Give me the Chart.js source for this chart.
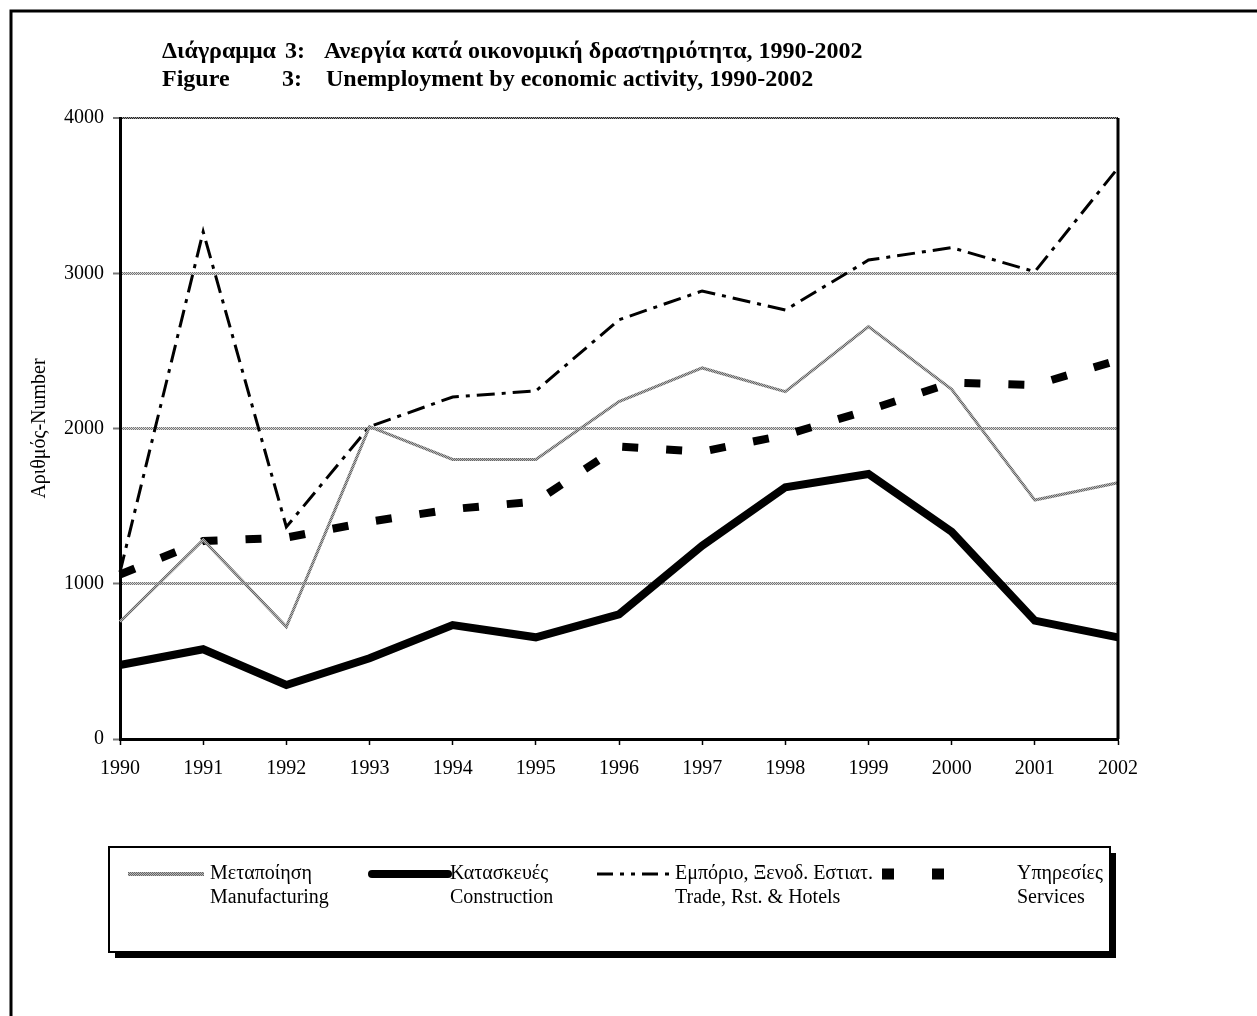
<!DOCTYPE html>
<html>
<head>
<meta charset="utf-8">
<script src="https://cdn.jsdelivr.net/npm/chart.js@4.4.1/dist/chart.umd.min.js"></script>
<style>
  html, body { margin: 0; padding: 0; background: #fff; }
  #wrap { width: 1257px; height: 1016px; }
</style>
</head>
<body>
<div id="wrap"><canvas id="unemploymentChart" width="1257" height="1016"></canvas></div>
<script>
const years = ["1990", "1991", "1992", "1993", "1994", "1995", "1996", "1997", "1998", "1999", "2000", "2001", "2002"];
const manufacturing = [755, 1282, 723, 2012, 1801, 1800, 2173, 2390, 2237, 2656, 2252, 1539, 1651];
const construction = [477, 578, 348, 520, 734, 655, 803, 1245, 1621, 1707, 1335, 762, 655];
const trade = [1075, 3268, 1366, 2012, 2203, 2242, 2700, 2886, 2763, 3085, 3165, 3010, 3678];
const services = [1060, 1275, 1297, 1400, 1481, 1530, 1883, 1851, 1958, 2119, 2295, 2280, 2440];
const yTicks = [0, 1000, 2000, 3000, 4000];

const seriesGreek = ["Μεταποίηση", "Κατασκευές", "Εμπόριο, Ξενοδ. Εστιατ.", "Υπηρεσίες"];
const seriesEnglish = ["Manufacturing", "Construction", "Trade, Rst. & Hotels", "Services"];
const titleGreek = ["Διάγραμμα", "3:", "Ανεργία κατά οικονομική δραστηριότητα, 1990-2002"];
const titleEnglish = ["Figure", "3:", "Unemployment by economic activity, 1990-2002"];
const yTitle = "Αριθμός-Number";

const serif = "'Liberation Serif', 'Times New Roman', serif";

// checkered grey, like the hatched gridlines of the original
function makeHatch(dark, light) {
  const c = document.createElement("canvas");
  c.width = 2; c.height = 2;
  const g = c.getContext("2d");
  g.fillStyle = light; g.fillRect(0, 0, 2, 2);
  g.fillStyle = dark; g.fillRect(0, 0, 1, 1); g.fillRect(1, 1, 1, 1);
  return g.createPattern(c, "repeat");
}
const ctxEl = document.getElementById("unemploymentChart");
const hatch = makeHatch("#777", "#d8d8d8");
const topHatch = makeHatch("#222", "#999");
const mfgHatch = makeHatch("#666", "#b8b8b8");

const legendLayout = {
  box: { x: 109, y: 847, w: 1001, h: 105 },
  sampleX: [128, 372, 597, 882],
  sampleW: 76,
  textX: [210, 450, 675, 1017],
  row1: 874,
  row2: 898
};

const framePlugin = {
  id: "figureFrame",
  afterDraw(chart) {
    const ctx = chart.ctx;
    const area = chart.chartArea;
    ctx.save();

    // outer frame (runs off the page on the right and bottom)
    ctx.strokeStyle = "#000";
    ctx.lineWidth = 3;
    ctx.strokeRect(11, 11, 1400, 1200);

    // right edge of plot
    ctx.beginPath();
    ctx.moveTo(area.right, area.top);
    ctx.lineTo(area.right, area.bottom);
    ctx.stroke();

    // title
    ctx.fillStyle = "#000";
    ctx.font = "bold 24px " + serif;
    ctx.textBaseline = "middle";
    ctx.textAlign = "left";
    const tx = [162, 285, 324];
    const ex = [162, 282, 326];
    titleGreek.forEach((t, i) => ctx.fillText(t, tx[i], 52));
    titleEnglish.forEach((t, i) => ctx.fillText(t, ex[i], 80));

    // legend box with drop shadow
    const b = legendLayout.box;
    ctx.fillStyle = "#000";
    ctx.fillRect(b.x + 6, b.y + 6, b.w, b.h);
    ctx.fillStyle = "#fff";
    ctx.fillRect(b.x, b.y, b.w, b.h);
    ctx.lineWidth = 2;
    ctx.strokeRect(b.x, b.y, b.w, b.h);

    chart.data.datasets.forEach((ds, i) => {
      const sx = legendLayout.sampleX[i];
      ctx.save();
      ctx.strokeStyle = ds.borderColor;
      ctx.lineWidth = ds.legendWidth || ds.borderWidth;
      ctx.lineCap = ds.legendCap || "butt";
      ctx.setLineDash(ds.legendDash || ds.borderDash || []);
      ctx.beginPath();
      ctx.moveTo(sx, legendLayout.row1);
      ctx.lineTo(sx + legendLayout.sampleW, legendLayout.row1);
      ctx.stroke();
      ctx.restore();

      ctx.fillStyle = "#000";
      ctx.font = "20px " + serif;
      ctx.textBaseline = "middle";
      ctx.fillText(seriesGreek[i], legendLayout.textX[i], legendLayout.row1);
      ctx.fillText(seriesEnglish[i], legendLayout.textX[i], legendLayout.row2);
    });

    ctx.restore();
  }
};

new Chart(ctxEl, {
  type: "line",
  data: {
    labels: years,
    datasets: [
      {
        label: seriesEnglish[0],
        data: manufacturing,
        borderColor: mfgHatch,
        borderWidth: 3,
        pointRadius: 0,
        tension: 0,
        legendWidth: 4
      },
      {
        label: seriesEnglish[1],
        data: construction,
        borderColor: "#000",
        borderWidth: 8,
        borderJoinStyle: "miter",
        pointRadius: 0,
        tension: 0,
        legendCap: "round"
      },
      {
        label: seriesEnglish[2],
        data: trade,
        borderColor: "#000",
        borderWidth: 3,
        borderDash: [18, 7, 4, 7],
        pointRadius: 0,
        tension: 0,
        legendDash: [16, 7, 4, 7, 4, 7]
      },
      {
        label: seriesEnglish[3],
        data: services,
        borderColor: "#000",
        borderWidth: 8,
        borderDash: [16, 28],
        pointRadius: 0,
        tension: 0,
        legendWidth: 11,
        legendDash: [12, 38]
      }
    ]
  },
  options: {
    responsive: false,
    animation: false,
    devicePixelRatio: 1,
    layout: {
      padding: { left: 0, top: 118, right: 139, bottom: 0 }
    },
    scales: {
      x: {
        type: "category",
        offset: false,
        afterFit(scale) { scale.height = 277; },
        grid: {
          drawOnChartArea: false,
          drawTicks: true,
          tickLength: 6,
          tickColor: "#000",
          tickWidth: 1.5
        },
        border: { display: true, color: "#000", width: 3 },
        ticks: {
          color: "#000",
          padding: 12,
          maxRotation: 0,
          autoSkip: false,
          font: { family: serif, size: 20 }
        }
      },
      y: {
        min: 0,
        max: 4000,
        afterFit(scale) { scale.width = 120; },
        afterBuildTicks(scale) {
          scale.ticks = yTicks.map(v => ({ value: v }));
        },
        grid: {
          color: c => (c.tick && c.tick.value === 4000 ? topHatch : hatch),
          lineWidth: c => (c.tick && c.tick.value === 4000 ? 2 : 3),
          drawTicks: true,
          tickLength: 7,
          tickColor: "#777",
          tickWidth: 2
        },
        border: { display: true, color: "#000", width: 3 },
        ticks: {
          color: "#000",
          padding: 9,
          font: { family: serif, size: 20 },
          callback: v => String(v)
        },
        title: {
          display: true,
          text: yTitle,
          color: "#000",
          padding: { top: 28, bottom: 0 },
          font: { family: serif, size: 20 }
        }
      }
    },
    plugins: {
      legend: { display: false },
      tooltip: { enabled: false }
    }
  },
  plugins: [framePlugin]
});
</script>
</body>
</html>
